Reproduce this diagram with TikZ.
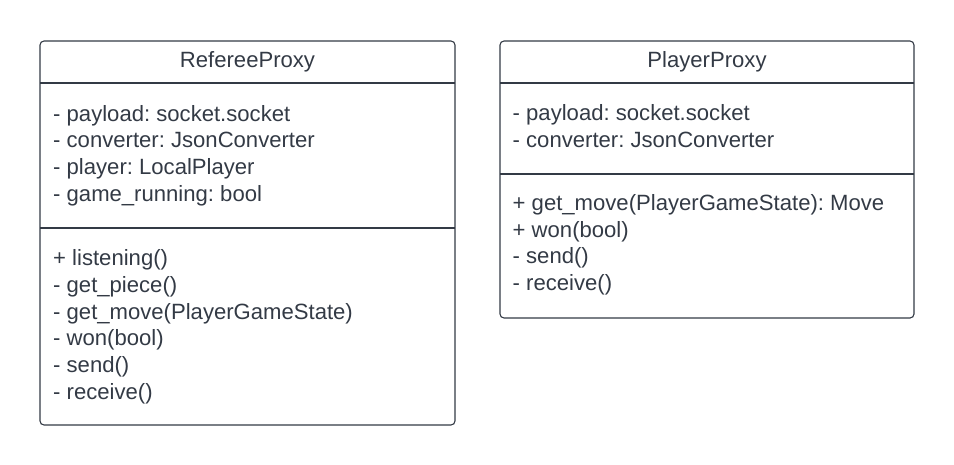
\documentclass[tikz,border=0pt]{standalone}
\usepackage{fontspec}
\setmainfont{Liberation Sans}
\definecolor{ink}{RGB}{51,58,69}
\begin{document}
\frenchspacing
\begin{tikzpicture}[x=1pt,y=-1pt,
  classbox/.style={draw=ink,line width=1.1pt,rounded corners=4pt,inner sep=0pt},
  divider/.style={draw=ink,line width=1.1pt},
  member/.style={anchor=base west,inner sep=0pt,text=ink,font=\fontsize{22.1}{26}\selectfont},
  title/.style={anchor=base,inner sep=0pt,text=ink,font=\fontsize{22.1}{26}\selectfont}]
\useasboundingbox (0,0) rectangle (954,464);
% Left class
\node[classbox,minimum width=415pt,minimum height=384pt] (ref) at (247.5,233) {};
\coordinate (r1l) at (40,83); \coordinate (r1r) at (455,83);
\coordinate (r2l) at (40,228); \coordinate (r2r) at (455,228);
\draw[divider] (r1l) -- (r1r);
\draw[divider] (r2l) -- (r2r);
\node[title] (reft) at (247.5,67) {RefereeProxy};
\node[member] (ra1) at (53,121) {- payload: socket.socket};
\node[member] (ra2) at (53,147.7) {- converter: JsonConverter};
\node[member] (ra3) at (53,174.4) {- player: LocalPlayer};
\node[member] (ra4) at (53,201.1) {- game\_running: bool};
\node[member] (rm1) at (53,265.7) {+ listening()};
\node[member] (rm2) at (53,292.4) {- get\_piece()};
\node[member] (rm3) at (53,319.1) {- get\_move(PlayerGameState)};
\node[member] (rm4) at (53,345.8) {- won(bool)};
\node[member] (rm5) at (53,372.5) {- send()};
\node[member] (rm6) at (53,399.2) {- receive()};
% Right class
\node[classbox,minimum width=414pt,minimum height=277pt] (pla) at (707,179.5) {};
\coordinate (p1l) at (500,83); \coordinate (p1r) at (914,83);
\coordinate (p2l) at (500,174); \coordinate (p2r) at (914,174);
\draw[divider] (p1l) -- (p1r);
\draw[divider] (p2l) -- (p2r);
\node[title] (plat) at (707,67) {PlayerProxy};
\node[member] (pa1) at (512.5,120.5) {- payload: socket.socket};
\node[member] (pa2) at (512.5,147.2) {- converter: JsonConverter};
\node[member] (pm1) at (512.5,210.5) {+ get\_move(PlayerGameState): Move};
\node[member] (pm2) at (512.5,237.2) {+ won(bool)};
\node[member] (pm3) at (512.5,263.9) {- send()};
\node[member] (pm4) at (512.5,290.6) {- receive()};
\end{tikzpicture}
\end{document}
